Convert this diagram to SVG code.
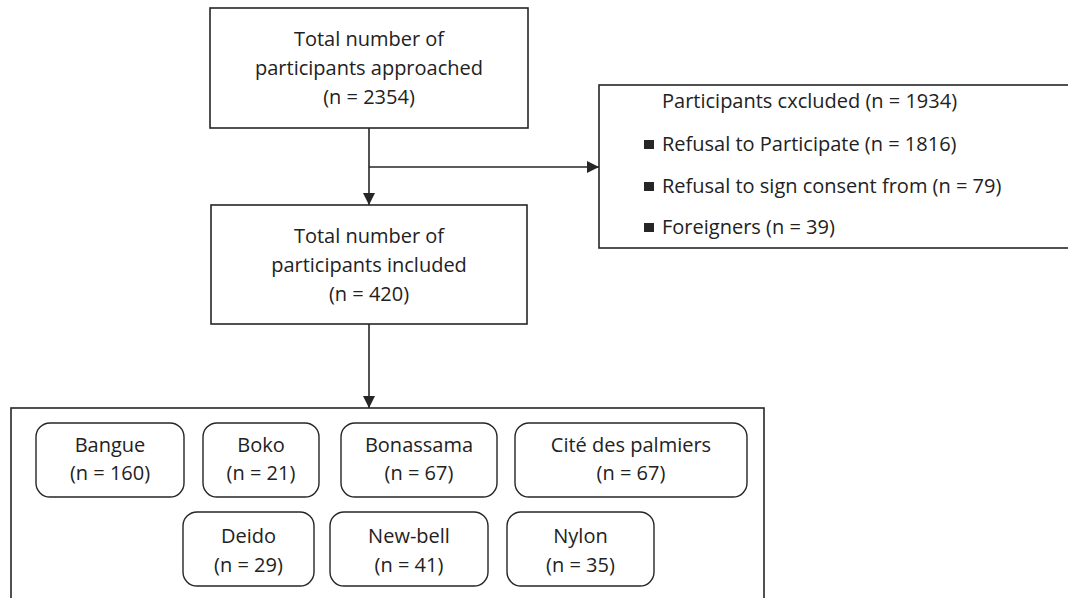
<svg xmlns="http://www.w3.org/2000/svg" width="1068" height="598" viewBox="0 0 1068 598">
<defs>
<style>
.box{fill:#fff;stroke:#262626;stroke-width:1.6}
.rbox{fill:#fff;stroke:#262626;stroke-width:1.4}
.t{font-family:"Open Sans","Noto Sans",sans-serif;font-size:20px;fill:#222;text-anchor:middle}
.l{font-family:"Open Sans","Noto Sans",sans-serif;font-size:20px;fill:#222}
.c{fill:none;stroke:#262626;stroke-width:1.6}
.b{fill:#262626}
</style>
<marker id="ah" viewBox="0 0 12 12" refX="12" refY="6" markerWidth="12" markerHeight="12" markerUnits="userSpaceOnUse" orient="auto">
<path d="M0,0 L12,6 L0,12 z" fill="#262626"/>
</marker>
</defs>
<rect width="1068" height="598" fill="#fff"/>
<g id="connectors">
<path class="c" d="M369,128 V205" marker-end="url(#ah)"/>
<path class="c" d="M369,167 H599" marker-end="url(#ah)"/>
<path class="c" d="M369,324 V408" marker-end="url(#ah)"/>
</g>
<g id="approached">
<rect class="box" x="210" y="8" width="318" height="120"/>
<text class="t" x="369" y="46">Total number of</text>
<text class="t" x="369" y="75">participants approached</text>
<text class="t" x="369" y="104">(n = 2354)</text>
</g>
<g id="included">
<rect class="box" x="211" y="205" width="316" height="119"/>
<text class="t" x="369" y="243">Total number of</text>
<text class="t" x="369" y="272">participants included</text>
<text class="t" x="369" y="301">(n = 420)</text>
</g>
<g id="excluded">
<rect class="box" x="599" y="85" width="480" height="163"/>
<text class="l" x="662" y="108">Participants cxcluded (n = 1934)</text>
<rect class="b" x="644" y="140" width="10" height="9"/>
<text class="l" x="662" y="151">Refusal to Participate (n = 1816)</text>
<rect class="b" x="644" y="182" width="10" height="9"/>
<text class="l" x="662" y="193">Refusal to sign consent from (n = 79)</text>
<rect class="b" x="644" y="223" width="10" height="9"/>
<text class="l" x="662" y="234">Foreigners (n = 39)</text>
</g>
<g id="sites">
<rect class="box" x="11" y="408" width="753" height="200"/>
</g>
<g id="bangue">
<rect class="rbox" x="36" y="423" width="148" height="74" rx="14"/>
<text class="t" x="110" y="452">Bangue</text>
<text class="t" x="110" y="480">(n = 160)</text>
</g>
<g id="boko">
<rect class="rbox" x="203" y="423" width="116" height="74" rx="14"/>
<text class="t" x="261" y="452">Boko</text>
<text class="t" x="261" y="480">(n = 21)</text>
</g>
<g id="bonassama">
<rect class="rbox" x="341" y="423" width="156" height="74" rx="14"/>
<text class="t" x="419" y="452">Bonassama</text>
<text class="t" x="419" y="480">(n = 67)</text>
</g>
<g id="cite">
<rect class="rbox" x="515" y="423" width="232" height="74" rx="14"/>
<text class="t" x="631" y="452">Cité des palmiers</text>
<text class="t" x="631" y="480">(n = 67)</text>
</g>
<g id="deido">
<rect class="rbox" x="183" y="512" width="131" height="74" rx="14"/>
<text class="t" x="248.500" y="543">Deido</text>
<text class="t" x="248.500" y="572">(n = 29)</text>
</g>
<g id="newbell">
<rect class="rbox" x="330" y="512" width="158" height="74" rx="14"/>
<text class="t" x="409" y="543">New-bell</text>
<text class="t" x="409" y="572">(n = 41)</text>
</g>
<g id="nylon">
<rect class="rbox" x="507" y="512" width="147" height="74" rx="14"/>
<text class="t" x="580.500" y="543">Nylon</text>
<text class="t" x="580.500" y="572">(n = 35)</text>
</g>
</svg>
